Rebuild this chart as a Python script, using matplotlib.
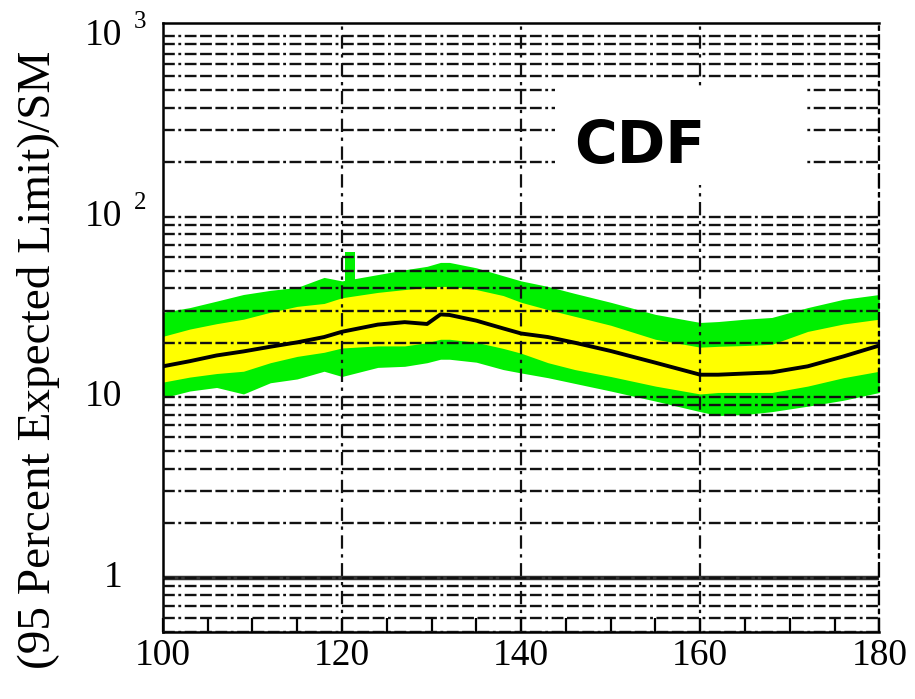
import matplotlib
matplotlib.use("Agg")
import matplotlib.pyplot as plt
from matplotlib.ticker import LogLocator, MultipleLocator, NullFormatter, FixedLocator
from matplotlib.patches import Rectangle
import matplotlib.transforms as mtransforms

# Higgs mass (GeV) and expected 95% CL limit / SM
mass = [100, 103, 106, 109, 112, 115, 118, 120, 124, 127, 129.5, 131, 132, 135,
        138, 140, 143, 146, 150, 155, 160, 162, 165, 168, 172, 176, 180]
green_lo = [9.9, 10.8, 11.3, 10.4, 12.0, 12.6, 13.9, 13.0, 14.6, 14.8, 15.5, 16.2, 16.2, 15.6,
            14.2, 13.6, 12.8, 11.9, 10.8, 9.5, 8.3, 7.9, 8.0, 8.3, 8.9, 9.6, 10.6]
yellow_lo = [12.1, 12.9, 13.5, 13.9, 15.5, 16.8, 17.7, 18.7, 19.2, 19.2, 20.0, 20.9, 20.9, 20.1,
             18.6, 17.5, 15.5, 14.2, 13.0, 11.5, 10.4, 10.6, 10.6, 10.6, 11.5, 12.8, 13.9]
median = [14.8, 15.8, 17.0, 17.9, 19.0, 20.1, 21.5, 23.0, 25.2, 26.0, 25.4, 28.7, 28.5, 26.5,
          24.0, 22.5, 21.5, 20.0, 18.0, 15.5, 13.3, 13.3, 13.5, 13.7, 14.8, 16.8, 19.3]
yellow_hi = [21.7, 23.8, 25.5, 27.0, 29.5, 31.8, 33.0, 35.5, 38.0, 39.4, 40.5, 41.0, 41.0, 39.4,
             36.5, 33.5, 30.5, 28.0, 25.0, 20.9, 18.9, 19.1, 19.3, 19.6, 23.1, 25.4, 27.0]
green_hi = [29.5, 31.3, 34.0, 37.0, 39.0, 40.5, 46.0, 44.0, 47.7, 50.7, 53.0, 55.7, 55.7, 52.0,
            47.0, 44.0, 41.0, 37.5, 33.5, 28.7, 25.9, 26.2, 27.0, 27.6, 31.3, 34.8, 37.0]
spike_mass = [120.3, 121.5]
spike_lo = [44, 44]
spike_hi = [64, 64]

x_ticks = [100, 120, 140, 160, 180]
y_labels = [(1, "1", ""), (10, "10", ""), (100, "10", "2"), (1000, "10", "3")]

serif = "Liberation Serif"
grid_dash = (0, (5, 1.5, 1.2, 1.5, 5, 1.5, 5, 1.5))
vgrid_dash = (0, (6, 2.5, 1.5, 2.5))

fig = plt.figure(figsize=(9.15, 6.99), dpi=100)
ax = fig.add_axes([0.178, 0.096, 0.783, 0.871])
ax.set_yscale("log")
ax.set_xlim(100, 180)
ax.set_ylim(0.5, 1180)

ax.fill_between(mass, green_lo, green_hi, color="#00f000", lw=0, zorder=1)
ax.fill_between(spike_mass, spike_lo, spike_hi, color="#00f000", lw=0, zorder=1)
ax.fill_between(mass, yellow_lo, yellow_hi, color="#ffff00", lw=0, zorder=1.5)

# horizontal grid at every log subdivision
ax.yaxis.set_major_locator(LogLocator(base=10, subs=range(1, 10), numticks=50))
ax.yaxis.set_minor_locator(FixedLocator([]))
ax.yaxis.set_major_formatter(NullFormatter())
ax.grid(True, axis="y", which="major", color="#111111", lw=1.7, linestyle=grid_dash, zorder=2)
ax.axhline(1, color="#333333", lw=3.2, zorder=2.5)

for xv in x_ticks[1:]:
    ax.axvline(xv, color="#111111", lw=1.6, linestyle=vgrid_dash, zorder=2)

ax.plot(mass, median, color="black", lw=2.8, zorder=3)

ax.set_axisbelow(False)
ax.xaxis.set_major_locator(MultipleLocator(20))
ax.xaxis.set_minor_locator(MultipleLocator(5))
ax.tick_params(axis="x", which="both", direction="in", length=10, width=1.6, pad=5,
               labelsize=27, top=False)
ax.tick_params(axis="y", which="both", length=0)
for lab in ax.get_xticklabels():
    lab.set_fontfamily(serif)

for side in ["left", "bottom", "top"]:
    ax.spines[side].set_linewidth(1.8)
ax.spines["right"].set_linewidth(1.6)
ax.spines["right"].set_linestyle(vgrid_dash)

# y tick labels with detached exponents
trans = mtransforms.blended_transform_factory(ax.transAxes, ax.transData)
for yv, base, expo in y_labels:
    ax.annotate(base, xy=(0, yv), xycoords=trans, xytext=(-29, 0), textcoords="offset points",
                ha="right", va="center", fontsize=27, family=serif, annotation_clip=False)
    if expo:
        ax.annotate(expo, xy=(0, yv), xycoords=trans, xytext=(-21, 10), textcoords="offset points",
                    ha="left", va="center", fontsize=18, family=serif, annotation_clip=False)

ax.add_patch(Rectangle((0.547, 0.734), 0.352, 0.159, transform=ax.transAxes,
                       facecolor="white", edgecolor="none", zorder=4))
ax.text(0.666, 0.770, "CDF", transform=ax.transAxes, ha="center", va="baseline",
        fontsize=42, fontweight="bold", family="DejaVu Sans", zorder=5)

fig.text(0.042, 0.485, "(95 Percent Expected Limit)/SM", rotation=90, ha="center", va="center",
         fontsize=34, family=serif)

fig.savefig("out.png", dpi=100)
